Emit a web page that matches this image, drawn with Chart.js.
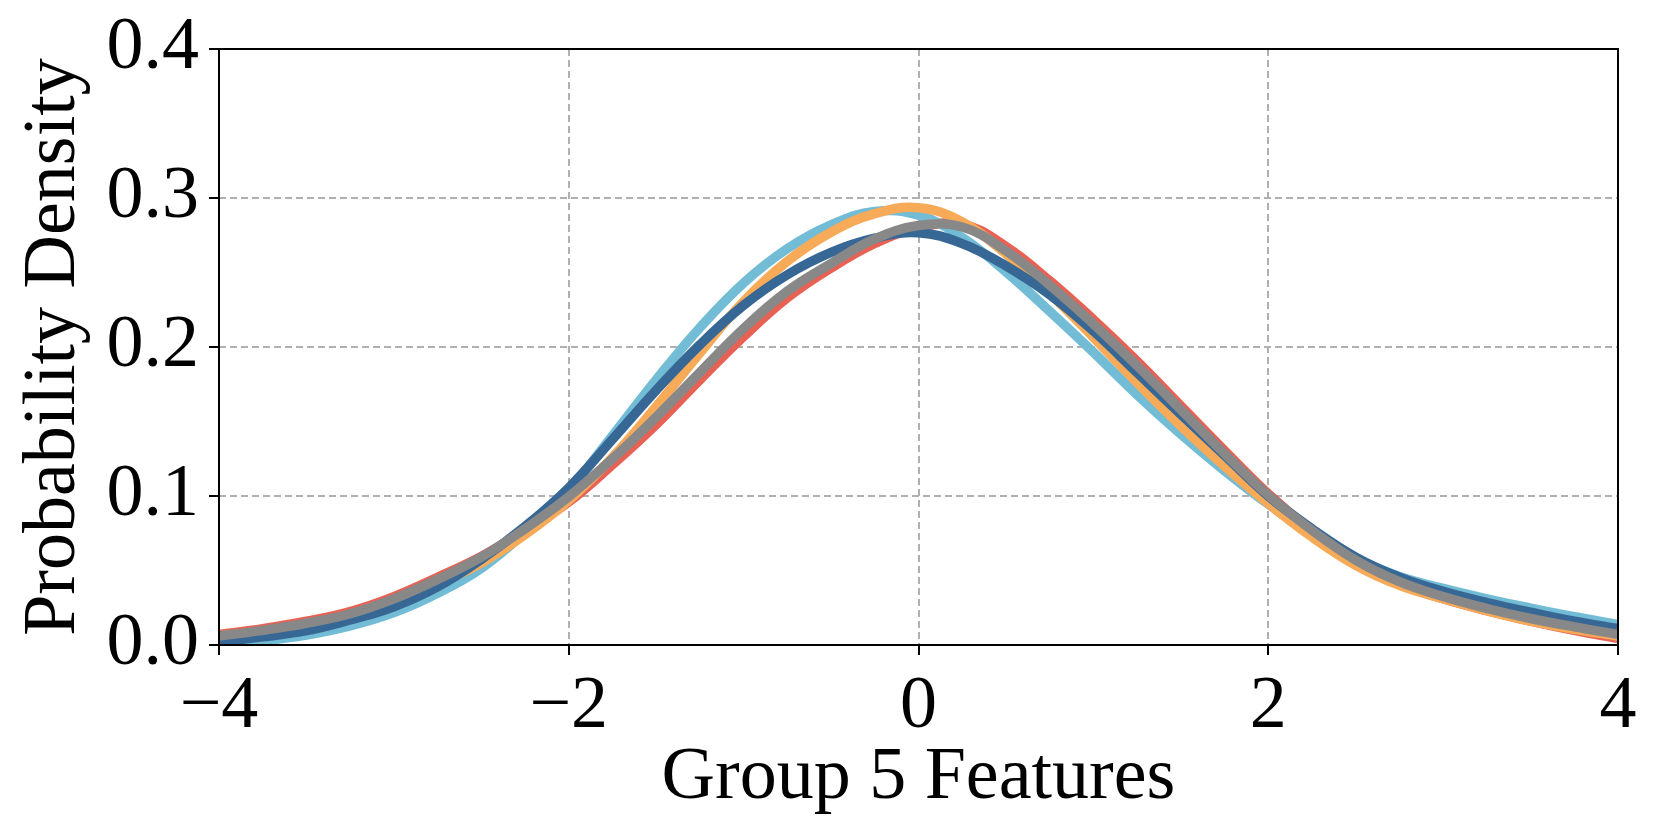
<!DOCTYPE html>
<html>
<head>
<meta charset="utf-8">
<title>Group 5 Features</title>
<script src="https://cdn.jsdelivr.net/npm/chart.js@4/dist/chart.umd.min.js"></script>
<style>
  html, body { margin: 0; padding: 0; background: #fff; }
  #chartArea { display: block; }
</style>
</head>
<body>
<canvas id="chartArea" width="1660" height="839"></canvas>
<script>
const xs = [-4, -3.75, -3.5, -3.25, -3, -2.75, -2.5, -2.25, -2, -1.75, -1.5, -1.25, -1, -0.75, -0.5, -0.25,
  0, 0.25, 0.5, 0.75, 1, 1.25, 1.5, 1.75, 2, 2.25, 2.5, 2.75, 3, 3.25, 3.5, 3.75, 4];

const grayDensity = [0.006, 0.0098, 0.0146, 0.021, 0.031, 0.044, 0.059, 0.078, 0.0995, 0.125, 0.153, 0.183,
  0.2125, 0.2375, 0.256, 0.2725, 0.2815, 0.2805, 0.2645, 0.2415, 0.2155, 0.1875, 0.158, 0.1285, 0.1005, 0.077,
  0.057, 0.0425, 0.0325, 0.0245, 0.0178, 0.0122, 0.0072];
const darkBlueDensity = [0.002, 0.0055, 0.0096, 0.0168, 0.0257, 0.039, 0.0575, 0.0795, 0.1055, 0.138, 0.171, 0.2015,
  0.228, 0.2485, 0.2635, 0.273, 0.2767, 0.2694, 0.2544, 0.2351, 0.2107, 0.1828, 0.1548, 0.1273, 0.1, 0.078,
  0.059, 0.0455, 0.036, 0.0285, 0.022, 0.016, 0.011];
const orangeDensity = [0.006, 0.0095, 0.014, 0.020, 0.029, 0.041, 0.055, 0.074, 0.097, 0.126, 0.16, 0.196,
  0.2305, 0.2575, 0.277, 0.2895, 0.2935, 0.284, 0.2625, 0.236, 0.2065, 0.176, 0.147, 0.12, 0.095, 0.0725,
  0.0535, 0.04, 0.031, 0.023, 0.016, 0.0105, 0.006];
const lightBlueDensity = [0.0012, 0.003, 0.0067, 0.0128, 0.0217, 0.0347, 0.0515, 0.0755, 0.104, 0.1405, 0.178, 0.213,
  0.243, 0.266, 0.282, 0.291, 0.2885, 0.2735, 0.2505, 0.224, 0.1965, 0.168, 0.1415, 0.117, 0.0945, 0.0745,
  0.058, 0.046, 0.038, 0.031, 0.0248, 0.019, 0.0137];
const redDensity = [0.007, 0.011, 0.016, 0.0225, 0.0325, 0.0455, 0.0595, 0.077, 0.096, 0.121, 0.148, 0.178,
  0.207, 0.233, 0.253, 0.2695, 0.28, 0.2825, 0.2675, 0.2445, 0.2185, 0.1905, 0.1605, 0.1305, 0.1015, 0.0765,
  0.055, 0.041, 0.031, 0.023, 0.016, 0.0098, 0.0045];

const xTicks = [-4, -2, 0, 2, 4];
const yTicks = [0, 0.1, 0.2, 0.3, 0.4];

const serif = "'Liberation Serif', 'Times New Roman', 'DejaVu Serif', serif";

function points(ys) {
  return xs.map((x, i) => ({x: x, y: ys[i]}));
}

function curve(ys, color) {
  return {
    data: points(ys),
    borderColor: color,
    borderWidth: 9.5,
    pointRadius: 0,
    fill: false,
    tension: 0.4,
    clip: 0,
  };
}

// black box around the plot, like matplotlib spines
const frame = {
  id: 'frame',
  afterDatasetsDraw(chart) {
    const {ctx, chartArea: a} = chart;
    ctx.save();
    ctx.strokeStyle = '#000';
    ctx.lineWidth = 2;
    ctx.strokeRect(a.left, a.top, a.right - a.left, a.bottom - a.top);
    ctx.restore();
  }
};

const gridOpts = {
  color: '#b0b0b0',
  lineWidth: 2,
  tickColor: '#000',
  tickLength: 10,
  tickWidth: 2,
  tickBorderDash: [],
};

// first dataset is drawn on top
const config = {
  type: 'line',
  data: {
    datasets: [
      curve(grayDensity, '#888888'),
      curve(darkBlueDensity, '#376795'),
      curve(orangeDensity, '#F7AA58'),
      curve(lightBlueDensity, '#72BCD5'),
      curve(redDensity, '#E76254'),
    ]
  },
  options: {
    responsive: false,
    animation: false,
    devicePixelRatio: 1,
    layout: {padding: {top: 49, right: 42, left: 0, bottom: 0}},
    plugins: {
      legend: {display: false},
      tooltip: {enabled: false},
    },
    scales: {
      x: {
        type: 'linear',
        min: -4,
        max: 4,
        afterBuildTicks: (s) => { s.ticks = xTicks.map(v => ({value: v})); },
        afterFit: (s) => { s.height = 194; },
        ticks: {
          autoSkip: false,
          maxRotation: 0,
          padding: 8,
          color: '#000',
          font: {family: serif, size: 74},
          callback: (v) => String(v).replace('-', '\u2212'),
        },
        grid: gridOpts,
        border: {display: false, dash: [7, 4]},
        title: {
          display: true,
          text: 'Group 5 Features',
          color: '#000',
          font: {family: serif, size: 74},
          padding: {top: 0, bottom: 16},
        },
      },
      y: {
        type: 'linear',
        min: 0,
        max: 0.4,
        afterBuildTicks: (s) => { s.ticks = yTicks.map(v => ({value: v})); },
        afterFit: (s) => { s.width = 219; },
        ticks: {
          padding: 10,
          color: '#000',
          font: {family: serif, size: 74, lineHeight: 1},
          callback: (v) => v.toFixed(1),
        },
        grid: gridOpts,
        border: {display: false, dash: [7, 4]},
        title: {
          display: true,
          text: 'Probability Density',
          color: '#000',
          font: {family: serif, size: 74},
          padding: {top: 10, bottom: 0},
        },
      },
    },
  },
  plugins: [frame],
};

const chart = new Chart(document.getElementById('chartArea'), config);
</script>
</body>
</html>
